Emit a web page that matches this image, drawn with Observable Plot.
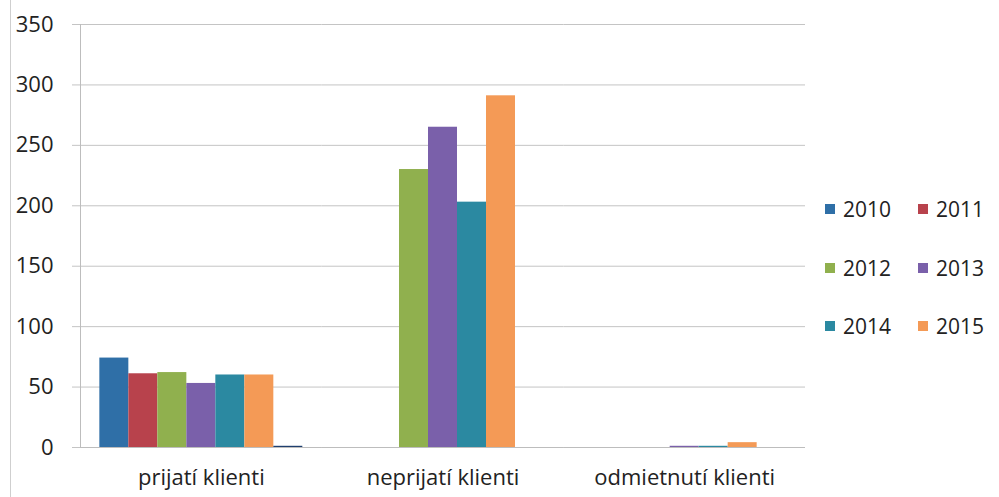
<!DOCTYPE html>
<html>
<head>
<meta charset="utf-8">
<script src="https://cdn.jsdelivr.net/npm/d3@7"></script>
<script src="https://cdn.jsdelivr.net/npm/@observablehq/plot@0.6"></script>
<style>
  html, body { margin: 0; padding: 0; background: #fff; }
  #wrap { position: relative; width: 999px; height: 497px; font-family: "Open Sans", sans-serif; }
  #border { position: absolute; left: 10px; top: 0; width: 0; height: 497px; border-left: 1px solid #cfcfcf; }
  #legend { position: absolute; left: 825px; top: 192px; display: grid; grid-template-columns: 93px 70px; grid-auto-rows: 58.5px; font-size: 21px; color: #222; }
  #legend .item { display: flex; align-items: center; height: 34px; }
  #legend .sw { width: 10px; height: 10px; margin-right: 8px; }
</style>
</head>
<body>
<div id="wrap"><div id="border"></div><div id="chart"></div><div id="legend"></div></div>
<script>
const categories = ["prijatí klienti", "neprijatí klienti", "odmietnutí klienti"];
const years = ["2010", "2011", "2012", "2013", "2014", "2015"];
const extraSeries = "bez označenia"; // unlabeled 7th series (not in legend)
const values2010 = [74, 0, 0];
const values2011 = [61, 0, 0];
const values2012 = [62, 230, 0];
const values2013 = [53, 265, 1];
const values2014 = [60, 203, 1];
const values2015 = [60, 291, 4];
const valuesExtra = [1, 0, 0];
const yTicks = [0, 50, 100, 150, 200, 250, 300, 350];
const colors = ["#2f6fa7", "#b8424c", "#90b04e", "#7a60aa", "#2b89a1", "#f49a56", "#1f3f6e"];

const seriesKeys = [...years, extraSeries];
const seriesValues = [values2010, values2011, values2012, values2013, values2014, values2015, valuesExtra];
const data = categories.flatMap((c, i) => seriesKeys.map((s, j) => ({category: c, series: s, value: seriesValues[j][i]})));

const chart = Plot.plot({
  width: 999,
  height: 497,
  marginLeft: 80,
  marginRight: 194,
  marginTop: 24,
  marginBottom: 50,
  style: {fontFamily: "'Open Sans', sans-serif", fontSize: "22px", color: "#222", background: "transparent"},
  fx: {domain: categories, padding: 0, label: null, axis: null, round: false},
  x: {domain: seriesKeys, paddingInner: 0, paddingOuter: 0.667, axis: null, round: false},
  y: {domain: [0, 350], label: null, axis: null},
  color: {domain: seriesKeys, range: colors},
  marks: [
    Plot.gridY(yTicks, {stroke: "#c4c4c4", strokeOpacity: 1}),
    Plot.axisY(yTicks, {tickSize: 8, tickPadding: 19, stroke: "#c4c4c4", label: null, fontSize: 22, fill: "#222"}),
    Plot.axisFx({anchor: "bottom", tickSize: 0, tickPadding: 22, label: null, fontSize: 22, fill: "#222"}),
    Plot.frame({anchor: "left", stroke: "#bdbdbd", facetAnchor: "left"}),
    Plot.barY(data, {fx: "category", x: "series", y: "value", fill: "series"}),
    Plot.ruleY([0], {stroke: "#bdbdbd"})
  ]
});
document.getElementById("chart").appendChild(chart);

const legend = d3.select("#legend");
years.forEach((y, i) => {
  const item = legend.append("div").attr("class", "item");
  item.append("div").attr("class", "sw").style("background", colors[i]);
  item.append("span").text(y);
});
</script>
</body>
</html>
